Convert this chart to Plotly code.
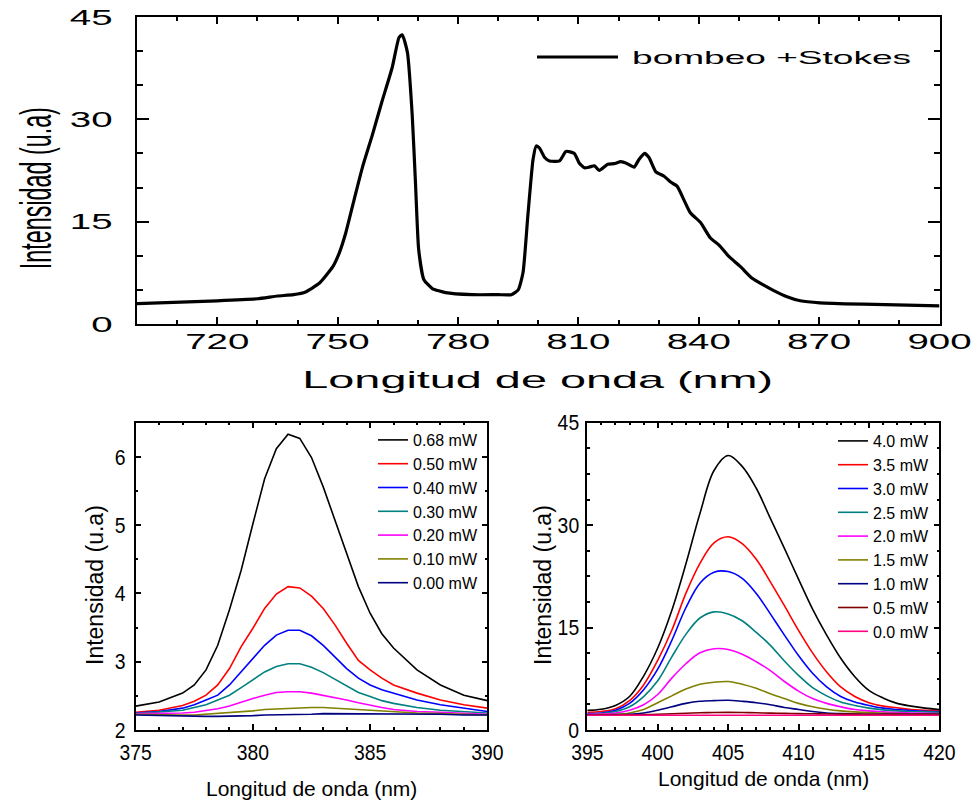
import plotly.graph_objects as go

W, H = 977, 803

# ---------------- data: top panel ----------------
top_wl = [700, 720, 730, 735, 739, 742, 745.5, 748.8, 750.4, 752, 754.1, 756.2, 758.7, 761,
          763.6, 765.3, 766.1, 767.4, 768.6, 769.4, 770.2, 771.5, 773.6, 776.9, 783.5, 790,
          793.3, 795, 796.2, 797.4, 798.7, 799.5, 800.3, 801.6, 802.8, 805.3, 806.9, 809,
          810.2, 811.5, 812.7, 814, 815.2, 817.3, 818.9, 820.6, 822.2, 823.9, 825.1, 826.5,
          827.6, 829.3, 831.3, 833, 834.6, 836.3, 837.9, 840.4, 842.9, 845, 847.5, 850.4,
          853.3, 856.2, 858.7, 862, 865.3, 870.2, 881, 900]
top_int = [3.0, 3.4, 3.7, 4.1, 4.3, 4.7, 6.0, 8.4, 10.4, 13.3, 18.2, 23.0, 27.8, 32.5,
           37.6, 42.0, 42.4, 39.8, 30.5, 20.7, 10.9, 6.5, 5.2, 4.6, 4.3, 4.3,
           4.3, 5.0, 7.5, 15.8, 24.1, 26.1, 25.8, 24.4, 23.9, 23.9, 25.3, 25.0,
           23.6, 22.9, 23.0, 23.2, 22.5, 23.4, 23.5, 23.8, 23.5, 23.0, 24.1, 25.0,
           24.4, 22.3, 21.7, 20.8, 20.2, 18.2, 16.3, 14.9, 12.6, 11.6, 9.9, 8.4,
           6.7, 5.7, 4.9, 4.0, 3.4, 3.1, 2.9, 2.65]
top_label = "bombeo +Stokes"

# ---------------- data: bottom-left panel ----------------
bl_wl = [375, 376, 377, 377.5, 378, 378.5, 379, 379.5, 380, 380.5, 381, 381.5, 382, 382.5,
         383, 383.5, 384, 384.5, 385, 385.5, 386, 387, 388, 389, 390]
bl_labels = ["0.68 mW", "0.50 mW", "0.40 mW", "0.30 mW", "0.20 mW", "0.10 mW", "0.00 mW"]
bl_colors = ["#000000", "#FF0000", "#0000FF", "#008080", "#FF00FF", "#808000", "#000080"]
bl_068 = [2.35, 2.41, 2.54, 2.66, 2.88, 3.24, 3.76, 4.34, 5.02, 5.68, 6.12, 6.33, 6.27, 5.99,
          5.56, 5.07, 4.59, 4.10, 3.71, 3.41, 3.20, 2.88, 2.66, 2.51, 2.43]
bl_050 = [2.26, 2.29, 2.36, 2.42, 2.51, 2.66, 2.90, 3.22, 3.49, 3.78, 3.99, 4.10, 4.08, 3.96,
          3.78, 3.54, 3.27, 3.02, 2.88, 2.76, 2.66, 2.54, 2.44, 2.37, 2.32]
bl_040 = [2.25, 2.27, 2.32, 2.37, 2.44, 2.51, 2.66, 2.85, 3.05, 3.24, 3.39, 3.46, 3.46, 3.38,
          3.24, 3.07, 2.90, 2.76, 2.66, 2.59, 2.54, 2.44, 2.37, 2.32, 2.27]
bl_030 = [2.24, 2.26, 2.29, 2.33, 2.37, 2.44, 2.51, 2.62, 2.73, 2.85, 2.93, 2.97, 2.97, 2.92,
          2.84, 2.74, 2.64, 2.55, 2.49, 2.43, 2.39, 2.33, 2.29, 2.27, 2.25]
bl_020 = [2.24, 2.24, 2.25, 2.26, 2.28, 2.31, 2.35, 2.41, 2.46, 2.51, 2.55, 2.56, 2.56, 2.54,
          2.51, 2.47, 2.44, 2.40, 2.36, 2.33, 2.30, 2.27, 2.26, 2.24, 2.23]
bl_010 = [2.23, 2.22, 2.22, 2.22, 2.23, 2.24, 2.26, 2.27, 2.28, 2.30, 2.31, 2.32, 2.32, 2.33,
          2.33, 2.32, 2.31, 2.30, 2.28, 2.27, 2.26, 2.25, 2.24, 2.23, 2.22]
bl_000 = [2.22, 2.21, 2.21, 2.20, 2.20, 2.20, 2.20, 2.20, 2.21, 2.22, 2.22, 2.23, 2.23, 2.23,
          2.24, 2.24, 2.24, 2.24, 2.24, 2.24, 2.24, 2.23, 2.23, 2.22, 2.22]
bl_series = [bl_068, bl_050, bl_040, bl_030, bl_020, bl_010, bl_000]

# ---------------- data: bottom-right panel ----------------
br_wl = [395, 396, 397, 398, 399, 400, 401, 402, 403, 404, 405, 406, 407, 408, 409, 410,
         411, 412, 413, 414, 415, 416, 417, 418, 419, 420]
br_labels = ["4.0 mW", "3.5 mW", "3.0 mW", "2.5 mW", "2.0 mW", "1.5 mW", "1.0 mW", "0.5 mW", "0.0 mW"]
br_colors = ["#000000", "#FF0000", "#0000FF", "#008080", "#FF00FF", "#808000", "#000080",
             "#800000", "#FF0080"]
br_40 = [2.9, 3.05, 3.6, 4.9, 7.9, 12.0, 17.5, 24.3, 31.7, 38.0, 40.2, 38.6, 35.4, 31.0, 26.6,
         22.1, 17.7, 13.9, 10.5, 7.8, 5.8, 4.7, 3.9, 3.5, 3.2, 3.0]
br_35 = [2.6, 2.7, 3.1, 4.3, 6.6, 10.2, 14.6, 20.0, 24.4, 27.4, 28.3, 27.3, 25.0, 21.7, 18.2,
         14.6, 11.3, 8.5, 6.3, 4.9, 4.0, 3.5, 3.25, 3.0, 2.9, 2.8]
br_30 = [2.4, 2.5, 2.9, 3.9, 5.9, 8.9, 13.1, 17.9, 21.5, 23.1, 23.2, 22.2, 20.0, 17.0, 13.9,
         10.9, 8.3, 6.3, 4.9, 4.1, 3.6, 3.2, 3.0, 2.85, 2.75, 2.7]
br_25 = [2.3, 2.4, 2.7, 3.4, 4.9, 7.2, 10.7, 14.0, 16.4, 17.3, 17.0, 16.0, 14.3, 12.4, 10.1,
         8.0, 6.2, 5.0, 4.1, 3.6, 3.2, 2.95, 2.8, 2.7, 2.65, 2.6]
br_20 = [2.3, 2.35, 2.5, 2.9, 3.7, 5.2, 7.6, 9.7, 11.3, 11.9, 11.8, 11.1, 10.0, 8.7, 7.1,
         5.7, 4.6, 3.9, 3.4, 3.0, 2.8, 2.65, 2.55, 2.5, 2.45, 2.4]
br_15 = [2.2, 2.25, 2.3, 2.5, 3.0, 4.0, 5.0, 6.0, 6.7, 7.0, 7.1, 6.7, 6.1, 5.3, 4.6,
         3.9, 3.4, 3.05, 2.8, 2.65, 2.55, 2.45, 2.4, 2.35, 2.3, 2.3]
br_10 = [2.2, 2.2, 2.25, 2.3, 2.5, 2.9, 3.4, 3.9, 4.2, 4.3, 4.35, 4.2, 4.0, 3.7, 3.3,
         3.0, 2.7, 2.5, 2.4, 2.35, 2.3, 2.3, 2.3, 2.3, 2.3, 2.3]
br_05 = [2.2, 2.2, 2.2, 2.22, 2.25, 2.3, 2.38, 2.45, 2.52, 2.56, 2.58, 2.56, 2.52, 2.47, 2.43,
         2.4, 2.37, 2.35, 2.33, 2.32, 2.3, 2.3, 2.3, 2.3, 2.3, 2.3]
br_00 = [2.15, 2.15, 2.15, 2.15, 2.15, 2.15, 2.15, 2.16, 2.16, 2.16, 2.16, 2.16, 2.16, 2.16, 2.16,
         2.16, 2.15, 2.15, 2.15, 2.15, 2.15, 2.15, 2.15, 2.15, 2.15, 2.15]
br_series = [br_40, br_35, br_30, br_25, br_20, br_15, br_10, br_05, br_00]

# ---------------- helpers ----------------
def fx(px):
    return px / W

def fy(py):
    return 1 - py / H

FONT = "Liberation Sans, Arial, sans-serif"

fig = go.Figure()

fig.add_trace(go.Scatter(x=top_wl, y=top_int, mode="lines", name=top_label,
                         line=dict(color="black", width=3.2, shape="spline", smoothing=0.5),
                         xaxis="x", yaxis="y", showlegend=False))

for lab, col, ys in zip(bl_labels, bl_colors, bl_series):
    fig.add_trace(go.Scatter(x=bl_wl, y=ys, mode="lines", name=lab,
                             line=dict(color=col, width=1.6),
                             xaxis="x2", yaxis="y2", legend="legend"))

for lab, col, ys in zip(br_labels, br_colors, br_series):
    fig.add_trace(go.Scatter(x=br_wl, y=ys, mode="lines", name=lab,
                             line=dict(color=col, width=1.6, shape="spline", smoothing=1.0),
                             xaxis="x3", yaxis="y3", legend="legend2"))

def axis(domain, rng, dtick, mdtick, anchor, font, lw, tl, mtl, standoff):
    return dict(domain=domain, range=rng, dtick=dtick, tick0=0, anchor=anchor,
                automargin=False,
                showline=True, linecolor="black", linewidth=lw, mirror="ticks",
                ticks="inside", ticklen=tl, tickwidth=lw, tickcolor="black",
                minor=dict(dtick=mdtick, ticks="inside", ticklen=mtl, tickwidth=lw,
                           tickcolor="black", showgrid=False),
                showgrid=False, zeroline=False, tickfont=font,
                ticklabelstandoff=standoff, fixedrange=True)

topfont = dict(family=FONT, size=22, color="black")
botfont = dict(family=FONT, size=22, color="black")

layout = dict(
    width=W, height=H, autosize=False,
    margin=dict(l=0, r=0, t=0, b=0, autoexpand=False),
    paper_bgcolor="white", plot_bgcolor="white",
    xaxis=axis([fx(137), fx(939.5)], [700, 900], 30, 10, "y", topfont, 2, 7, 4, -3),
    yaxis=axis([fy(324), fy(17)], [0, 45], 15, 5, "x", topfont, 2, 12, 6, 18),
    xaxis2=axis([fx(135.7), fx(487.3)], [375, 390], 5, 1, "y2", botfont, 1.5, 6, 3, 2),
    yaxis2=axis([fy(730), fy(422.7)], [2, 6.5], 1, 0.5, "x2", botfont, 1.5, 6, 3, 4),
    xaxis3=axis([fx(587.3), fx(939.3)], [395, 420], 5, 1, "y3", botfont, 1.5, 6, 3, 2),
    yaxis3=axis([fy(730), fy(422.7)], [0, 45], 15, 3.75, "x3", botfont, 1.5, 6, 3, 2),
    legend=dict(x=fx(373), y=fy(423), xanchor="left", yanchor="top",
                bgcolor="rgba(0,0,0,0)", borderwidth=0, tracegroupgap=0,
                font=dict(family=FONT, size=16, color="black")),
    legend2=dict(x=fx(833), y=fy(424), xanchor="left", yanchor="top",
                 bgcolor="rgba(0,0,0,0)", borderwidth=0, tracegroupgap=0,
                 font=dict(family=FONT, size=16, color="black")),
    shapes=[dict(type="line", xref="paper", yref="paper", x0=fx(537), x1=fx(618),
                 y0=fy(57), y1=fy(57), line=dict(color="black", width=3))],
    annotations=[
        dict(text="Longitud de onda (nm)", x=fx(537.5), y=fy(379), xref="paper", yref="paper",
             showarrow=False, xanchor="center", yanchor="middle",
             font=dict(family=FONT, size=24, color="black")),
        dict(text="Intensidad (u.a)", x=fx(35), y=fy(188), xref="paper", yref="paper",
             showarrow=False, xanchor="center", yanchor="middle", textangle=-90,
             font=dict(family=FONT, size=44, color="black")),
        dict(text=top_label, x=fx(771), y=fy(57), xref="paper", yref="paper",
             showarrow=False, xanchor="center", yanchor="middle",
             font=dict(family=FONT, size=19, color="black")),
        dict(text="Longitud de onda (nm)", x=fx(311), y=fy(788), xref="paper", yref="paper",
             showarrow=False, xanchor="center", yanchor="middle",
             font=dict(family=FONT, size=21, color="black")),
        dict(text="Intensidad (u.a)", x=fx(95), y=fy(585), xref="paper", yref="paper",
             showarrow=False, xanchor="center", yanchor="middle", textangle=-90,
             font=dict(family=FONT, size=23, color="black")),
        dict(text="Longitud de onda (nm)", x=fx(763), y=fy(778), xref="paper", yref="paper",
             showarrow=False, xanchor="center", yanchor="middle",
             font=dict(family=FONT, size=21, color="black")),
        dict(text="Intensidad (u.a)", x=fx(543), y=fy(585), xref="paper", yref="paper",
             showarrow=False, xanchor="center", yanchor="middle", textangle=-90,
             font=dict(family=FONT, size=23, color="black")),
    ],
)
fig.update_layout(layout)

# The reference's top panel uses horizontally stretched lettering and the bottom
# panels slightly condensed tick labels; emulate with a horizontal text scale.
post = """
(function(){
  var gd = document.getElementById('{plot_id}');
  function sx(el, s){
    if(!el || el.getAttribute('data-sx')) return;
    var bb = el.getBBox();
    var a = el.getAttribute('text-anchor') || 'start';
    var ox = a === 'end' ? bb.x + bb.width : (a === 'middle' ? bb.x + bb.width/2 : bb.x);
    var t = el.getAttribute('transform') || '';
    el.setAttribute('transform', t + ' translate(' + ox + ',0) scale(' + s + ',1) translate(' + (-ox) + ',0)');
    el.setAttribute('data-sx', '1');
  }
  function run(){
    gd.querySelectorAll('.subplot.xy .xaxislayer-above text').forEach(function(e){ sx(e, 1.75); });
    gd.querySelectorAll('.subplot.xy .yaxislayer-above text').forEach(function(e){ sx(e, 1.75); });
    ['x2y2', 'x3y3'].forEach(function(sp){
      gd.querySelectorAll('.subplot.' + sp + ' .xaxislayer-above text, .subplot.' + sp + ' .yaxislayer-above text')
        .forEach(function(e){ sx(e, 0.88); });
    });
    var m = {0: 1.95, 1: 0.53, 2: 1.95};
    Object.keys(m).forEach(function(k){
      var g = gd.querySelector('g.annotation[data-index="' + k + '"] text');
      sx(g, m[k]);
    });
  }
  try { run(); } catch(e) {}
  gd.on('plotly_afterplot', function(){ try { run(); } catch(e) {} });
})();
"""

fig.write_html("out.html", post_script=post)
